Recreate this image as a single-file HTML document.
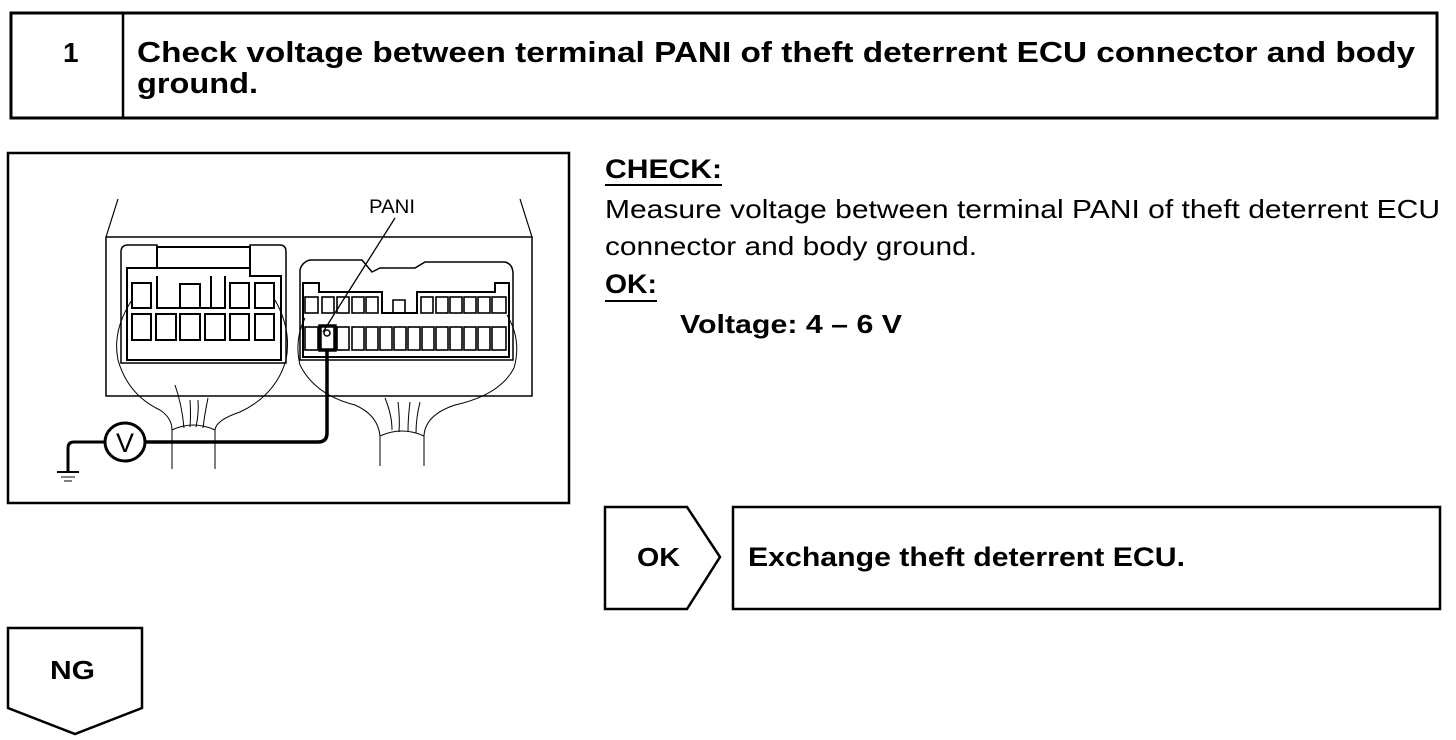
<!DOCTYPE html>
<html><head><meta charset="utf-8"><style>
html,body{margin:0;padding:0;background:#fff;width:1456px;height:740px;overflow:hidden}
svg{display:block}
text{font-family:"Liberation Sans",Arial,sans-serif;fill:#000}
.b{font-weight:bold}
</style></head><body>
<svg width="1456" height="740" viewBox="0 0 1456 740" xmlns="http://www.w3.org/2000/svg">
<g fill="none" stroke="#000">
<!-- header -->
<rect x="11" y="13" width="1426" height="105" stroke-width="3"/>
<line x1="123" y1="13" x2="123" y2="118" stroke-width="2.5"/>
<!-- diagram box -->
<rect x="8" y="153" width="561" height="350" stroke-width="2.5"/>
<!-- housing -->
<line x1="118" y1="199" x2="106" y2="237" stroke-width="1.2"/>
<line x1="520" y1="199" x2="532" y2="237" stroke-width="1.2"/>
<rect x="106" y="237" width="426" height="159" stroke-width="1.5"/>
<!-- left connector -->
<path d="M121 363 L121 252 Q121 245 128 245 L157 245 L157 247 L250 247 L250 245 L280 245 Q286 245 286 252 L286 363 Z" stroke-width="1.5"/>
<path d="M127 360 L127 268 L250 268 L250 276 L281 276 L281 360 Z" stroke-width="2"/>
<rect x="157" y="247" width="93" height="21" stroke-width="2"/>
<g stroke-width="2">
<rect x="132" y="283" width="19" height="25"/>
<rect x="230" y="283" width="19" height="25"/>
<rect x="255" y="283" width="19" height="25"/>
<path d="M157 276 L157 308 L225 308 L225 276"/>
<path d="M180 308 L180 284 L200 284 L200 308"/>
<line x1="211" y1="276" x2="211" y2="308"/>
<rect x="132" y="314" width="19" height="26"/>
<rect x="156" y="314" width="20" height="26"/>
<rect x="180" y="314" width="20" height="26"/>
<rect x="205" y="314" width="20" height="26"/>
<rect x="230" y="314" width="19" height="26"/>
<rect x="255" y="314" width="19" height="26"/>
</g>
<!-- right connector -->
<path d="M300 360 L300 270 Q302 262 310 260 L362 260 L372 272 L380 268 L415 268 L425 262 L505 262 Q513 264 513 274 L513 360 Z" stroke-width="1.5"/>
<path d="M303 357 L303 283 L319 283 L319 292 L382 292 L382 313 L417 313 L417 292 L495 292 L495 283 L509 283 L509 357 Z" stroke-width="2"/>
<g stroke-width="1.6">
<rect x="305" y="297" width="13" height="16"/>
<rect x="322" y="297" width="12" height="16"/>
<rect x="337" y="297" width="12" height="16"/>
<rect x="352" y="297" width="12" height="16"/>
<rect x="366" y="297" width="12" height="16"/>
<path d="M393 313 L393 300 L405 300 L405 313"/>
<rect x="421" y="297" width="12" height="16"/>
<rect x="436" y="297" width="12" height="16"/>
<rect x="450" y="297" width="12" height="16"/>
<rect x="464" y="297" width="12" height="16"/>
<rect x="478" y="297" width="12" height="16"/>
<rect x="492" y="297" width="14" height="16"/>
</g>
<g stroke-width="1.6">
<rect x="305" y="327" width="13" height="23"/>
<rect x="337" y="327" width="12" height="23"/>
<rect x="352" y="327" width="12" height="23"/>
<rect x="366" y="327" width="12" height="23"/>
<rect x="380" y="327" width="12" height="23"/>
<rect x="394" y="327" width="12" height="23"/>
<rect x="408" y="327" width="12" height="23"/>
<rect x="422" y="327" width="12" height="23"/>
<rect x="436" y="327" width="12" height="23"/>
<rect x="450" y="327" width="12" height="23"/>
<rect x="464" y="327" width="12" height="23"/>
<rect x="478" y="327" width="12" height="23"/>
<rect x="492" y="327" width="14" height="23"/>
</g>
<rect x="320" y="326" width="15" height="24" stroke-width="3.5"/>
<circle cx="327" cy="333" r="3" stroke-width="1.5"/>
<!-- wraps -->
<g stroke-width="1">
<path d="M132 300 Q112 330 118 360 Q128 395 160 410 Q172 418 172 430"/>
<path d="M275 300 Q292 330 286 360 Q276 395 240 412 Q216 420 215 430"/>
<path d="M305 318 Q294 340 300 365 Q315 395 355 405 Q378 415 380 436"/>
<path d="M507 315 Q522 340 514 368 Q500 395 455 405 Q425 415 424 436"/>
<path d="M172 430 Q193 420 215 430"/>
<path d="M380 436 Q402 426 424 436"/>
<path d="M175 385 Q182 405 184 428 M190 400 Q191 415 190 427 M198 400 Q199 413 196 427 M208 398 Q205 412 203 428"/>
<path d="M385 398 Q392 415 392 430 M398 402 Q400 418 399 432 M410 402 Q408 418 408 432 M420 402 Q416 418 416 433"/>
<line x1="172" y1="430" x2="172" y2="469"/>
<line x1="215" y1="430" x2="215" y2="469"/>
<line x1="380" y1="436" x2="380" y2="466"/>
<line x1="424" y1="436" x2="424" y2="466"/>
</g>
<!-- probe wire -->
<path d="M327 350 L327 433 Q327 442 318 442 L145 442" stroke-width="3.5"/>
<ellipse cx="125" cy="442" rx="20" ry="19" stroke-width="3"/>
<path d="M105 442 L74 442 Q68 442 68 448 L68 471" stroke-width="3"/>
<line x1="57" y1="472" x2="79" y2="472" stroke-width="2"/>
<line x1="61" y1="477" x2="75" y2="477" stroke-width="1"/>
<line x1="64" y1="481" x2="72" y2="481" stroke-width="1"/>
<line x1="395" y1="218" x2="323" y2="332" stroke-width="1.3"/>
<!-- OK arrow + box -->
<path d="M605 507 L687 507 L720 557 L687 609 L605 609 Z" stroke-width="2.5"/>
<rect x="733" y="507" width="707" height="102" stroke-width="2.5"/>
<!-- NG -->
<path d="M8 628 L142 628 L142 708 L75 734 L8 708 Z" stroke-width="2.5"/>
<!-- underlines -->
<line x1="605" y1="185" x2="722" y2="185" stroke-width="2"/>
<line x1="605" y1="301" x2="657" y2="301" stroke-width="2"/>
</g>
<text x="63" y="62" class="b" font-size="28">1</text>
<text x="137" y="62" class="b" font-size="29" textLength="1278" lengthAdjust="spacingAndGlyphs">Check voltage between terminal PANI of theft deterrent ECU connector and body</text>
<text x="137" y="93" class="b" font-size="29" textLength="121" lengthAdjust="spacingAndGlyphs">ground.</text>
<text x="369" y="213" font-size="19" textLength="46" lengthAdjust="spacingAndGlyphs">PANI</text>
<text x="116" y="452" font-size="27">V</text>
<text x="605" y="178" class="b" font-size="27" textLength="117" lengthAdjust="spacingAndGlyphs">CHECK:</text>
<text x="605" y="218" font-size="26" textLength="835" lengthAdjust="spacingAndGlyphs">Measure voltage between terminal PANI of theft deterrent ECU</text>
<text x="605" y="255" font-size="26" textLength="372" lengthAdjust="spacingAndGlyphs">connector and body ground.</text>
<text x="605" y="293" class="b" font-size="27" textLength="52" lengthAdjust="spacingAndGlyphs">OK:</text>
<text x="680" y="333" class="b" font-size="26" textLength="222" lengthAdjust="spacingAndGlyphs">Voltage: 4 – 6 V</text>
<text x="637" y="566" class="b" font-size="26" textLength="43" lengthAdjust="spacingAndGlyphs">OK</text>
<text x="748" y="566" class="b" font-size="27" textLength="437" lengthAdjust="spacingAndGlyphs">Exchange theft deterrent ECU.</text>
<text x="50" y="679" class="b" font-size="26" textLength="45" lengthAdjust="spacingAndGlyphs">NG</text>
</svg>
</body></html>
